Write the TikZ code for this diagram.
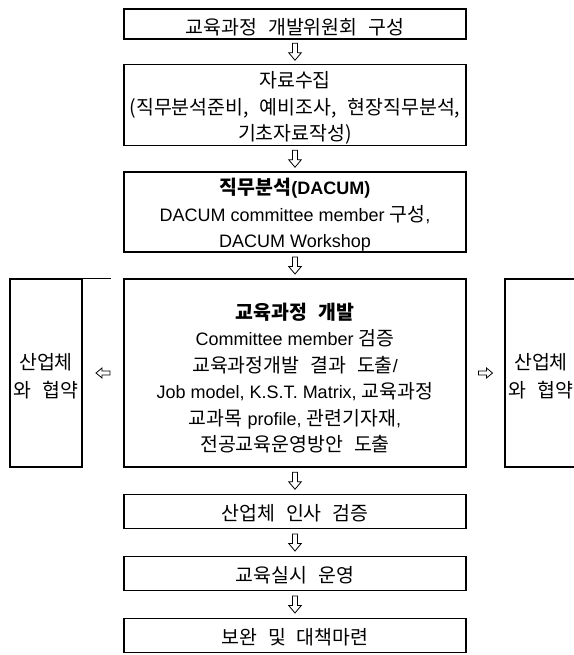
\documentclass[tikz,border=0pt]{standalone}
\usepackage{fontspec}
\setmainfont{Liberation Sans}
\newfontfamily\kr[WordSpace=2.5,Scale=1.08]{Noto Sans CJK KR}
\usetikzlibrary{calc}
\tikzset{
  box/.style={draw, line width=1.8pt, inner sep=0pt, minimum width=342pt},
  sidebox/.style={draw, line width=1.8pt, inner sep=0pt,
    minimum width=72pt, minimum height=188pt},
  txt/.style={inner sep=0pt, align=center, font=\fontsize{18}{26.5}\selectfont},
  sidetxt/.style={inner sep=0pt, align=center, font=\fontsize{18}{28}\selectfont},
  hollow/.style={draw, line width=0.8pt, fill=white, line join=miter},
  thinline/.style={draw, line width=0.5pt},
}
\newcommand\dnarrow[2]{%
  \path (#1.south) -- (#2.north) coordinate[pos=.5] (m#1#2);
  \draw[hollow] ([shift={(-2.5,-8.5)}]m#1#2) -- ++(5,0) -- ++(0,9.5) -- ++(3.8,0)
    -- ++(-6.3,7.5) -- ++(-6.3,-7.5) -- ++(3.8,0) -- cycle;}
\begin{document}
\begin{tikzpicture}[x=1pt,y=-1pt]
\useasboundingbox (0,0) rectangle (573,655);
\node[box, minimum height=30pt] (b1) at (295,24) {};
\node[box, minimum height=81pt] (b2) at (295,105) {};
\node[box, minimum height=80pt] (b3) at (295,212) {};
\node[box, minimum height=188pt] (b4) at (295,373) {};
\node[box, minimum height=34pt] (b5) at (295,511.5) {};
\node[box, minimum height=34pt] (b6) at (295,573.5) {};
\node[box, minimum height=34pt] (b7) at (295,635.5) {};
\node[sidebox] (sl) at (46,373) {};
\node[sidebox] (sr) at (541,373) {};
\node[txt] (t1) at ([yshift=-3pt]b1.center) {\kr 교육과정 개발위원회 구성};
\node[txt] (t2) at ([yshift=-3pt]b2.center)
  {\kr 자료수집\\ \kr (직무분석준비, 예비조사, 현장직무분석,\\ \kr 기초자료작성)};
\node[txt] (t3) at ([yshift=-3pt]b3.center)
  {{\kr\bfseries 직무분석}\textbf{(DACUM)}\\ DACUM committee member {\kr 구성},\\ DACUM Workshop};
\node[txt] (t4) at ([yshift=-5pt]b4.center)
  {{\kr\bfseries 교육과정 개발}\\
   Committee member {\kr 검증}\\
   {\kr 교육과정개발 결과 도출}/\\
   Job model, K.S.T. Matrix, {\kr 교육과정}\\
   {\kr 교과목} profile, {\kr 관련기자재},\\
   {\kr 전공교육운영방안 도출}};
\node[txt] (t5) at ([yshift=-2pt]b5.center) {\kr 산업체 인사 검증};
\node[txt] (t6) at ([yshift=-2pt]b6.center) {\kr 교육실시 운영};
\node[txt] (t7) at ([yshift=-2pt]b7.center) {\kr 보완 및 대책마련};
\node[sidetxt] (tl) at ([yshift=-3pt]sl.center) {\kr 산업체\\ \kr 와 협약};
\node[sidetxt] (tr) at ([yshift=-3pt]sr.center) {\kr 산업체\\ \kr 와 협약};
\dnarrow{b1}{b2}
\dnarrow{b2}{b3}
\dnarrow{b3}{b4}
\dnarrow{b4}{b5}
\dnarrow{b5}{b6}
\dnarrow{b6}{b7}
% side arrows
\path (b4.west) -- (sl.east) coordinate[pos=.5] (ml);
\draw[hollow] ([shift={(7,-2)}]ml) -- ++(-8,0) -- ++(0,-3) -- ++(-6,5)
  -- ++(6,5) -- ++(0,-3) -- ++(8,0) -- cycle;
\path (b4.east) -- (sr.west) coordinate[pos=.5] (mr);
\draw[hollow] ([shift={(-7,-2)}]mr) -- ++(8,0) -- ++(0,-3) -- ++(6,5)
  -- ++(-6,5) -- ++(0,-3) -- ++(-8,0) -- cycle;
\coordinate (tle) at ($(sl.north east)+(28,0)$);
\draw[thinline] (sl.north east) -- (tle);
\end{tikzpicture}
\end{document}
